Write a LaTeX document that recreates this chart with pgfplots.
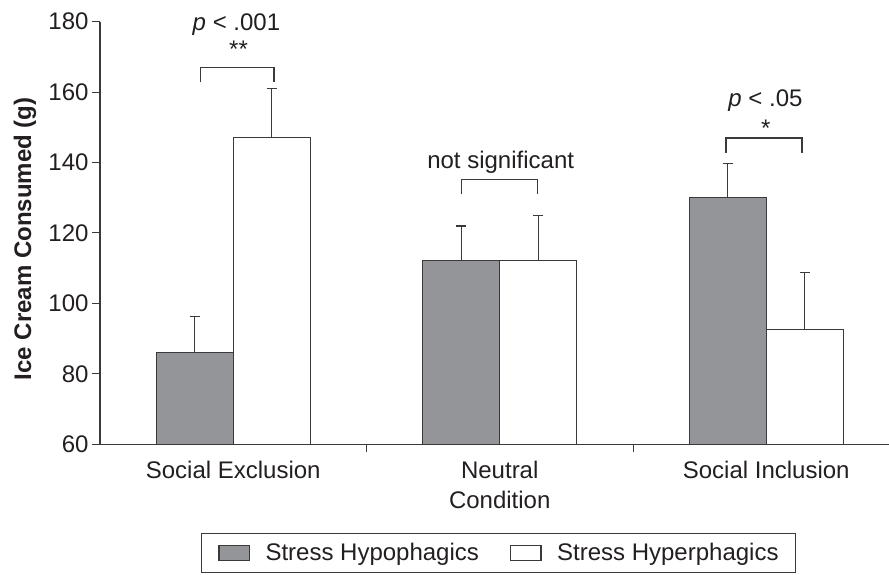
\documentclass[border=0pt]{standalone}
\usepackage{pgfplots}
\pgfplotsset{compat=1.18}
\usepackage{fontspec}
\setmainfont{Liberation Sans}
\definecolor{barg}{HTML}{939598}
\definecolor{edge}{HTML}{3A3A3A}
\definecolor{txt}{HTML}{231F20}
\newcommand{\ff}{\fontsize{24bp}{30bp}\selectfont}
\begin{document}
\begin{tikzpicture}
\useasboundingbox (-100bp,-130.7bp) rectangle (789bp,444.3bp);
\begin{axis}[
  at={(0,0)}, anchor=south west,
  scale only axis, width=789bp, height=422.6bp,
  xmin=-0.5, xmax=2.4606, ymin=60, ymax=180,
  axis x line=bottom, axis y line=left,
  axis line style={-, edge, line width=1.3bp},
  clip mode=individual,
  ytick={60,80,...,180},
  xtick={0.5,1.5}, xticklabels={},
  extra x ticks={0,1,2},
  extra x tick labels={Social Exclusion, {Neutral\\Condition}, Social Inclusion},
  extra x tick style={major tick length=0pt, xticklabel style={yshift=-13bp}},
  tick align=outside,
  major tick length=8bp,
  tick style={edge, line width=1bp},
  /pgf/number format/assume math mode=true,
  ticklabel style={font=\ff, text=txt},
  xticklabel style={align=center},
  yticklabel style={xshift=0bp},
  ylabel={Ice Cream Consumed (g)},
  ylabel style={font=\ff\bfseries, text=txt, at={(axis description cs:-0.095,0.486)}, anchor=center},
  legend style={at={(axis description cs:0.505,-0.2567)}, anchor=center, draw=edge, line width=1bp,
    font=\ff, text=txt, inner xsep=17bp, inner ysep=8bp,
    nodes={inner xsep=0pt},
    /tikz/every even column/.append style={column sep=31bp}},
  legend columns=2,
  legend cell align=left,
]
\addplot[ybar, bar width=0.289, bar shift=0, fill=barg, draw=edge, line width=1.2bp,
  legend image code/.code={\draw[fill=barg, draw=edge, line width=1.2bp] (0bp,-7.5bp) rectangle (30.5bp,7.5bp);
    \path (46bp,0bp);},
  error bars/.cd, y dir=plus, y explicit,
  error bar style={edge, line width=1.2bp},
  error mark options={rotate=90, mark size=5bp, edge, line width=1.2bp}]
  coordinates {(-0.1445,86.1) +- (0,10.3) (0.8555,112.1) +- (0,9.9) (1.8555,130.1) +- (0,9.7)};
\addplot[ybar, bar width=0.289, bar shift=0, fill=white, draw=edge, line width=1.2bp,
  legend image code/.code={\draw[fill=white, draw=edge, line width=1.2bp] (0bp,-7.5bp) rectangle (30.5bp,7.5bp);
    \path (46bp,0bp);},
  error bars/.cd, y dir=plus, y explicit,
  error bar style={edge, line width=1.2bp},
  error mark options={rotate=90, mark size=5bp, edge, line width=1.2bp}]
  coordinates {(0.1445,147.2) +- (0,13.9) (1.1445,112.1) +- (0,12.8) (2.1445,92.7) +- (0,16.0)};
\legend{Stress Hypophagics, Stress Hyperphagics}
\addplot[forget plot, edge, line width=1.2bp, no markers] coordinates {(-0.122,162.8) (-0.122,167.1) (0.153,167.1) (0.153,162.8)};
\addplot[forget plot, edge, line width=1.2bp, no markers] coordinates {(0.857,131.0) (0.857,135.1) (1.142,135.1) (1.142,131.0)};
\addplot[forget plot, edge, line width=1.2bp, no markers] coordinates {(1.849,142.8) (1.849,147.0) (2.134,147.0) (2.134,142.8)};
\node[font=\ff, text=txt, anchor=base, inner sep=0pt] at (axis cs:0.012,177.6) {\textit{p} < .001};
\node[font=\ff, text=txt, anchor=base, inner sep=0pt] at (axis cs:0.020,169.7) {**};
\node[font=\ff, text=txt, anchor=base, inner sep=0pt] at (axis cs:1.0035,138.4) {not significant};
\node[font=\ff, text=txt, anchor=base, inner sep=0pt] at (axis cs:1.997,155.9) {\textit{p} < .05};
\node[font=\ff, text=txt, anchor=base, inner sep=0pt] at (axis cs:1.998,147.3) {*};
\end{axis}
\end{tikzpicture}
\end{document}
